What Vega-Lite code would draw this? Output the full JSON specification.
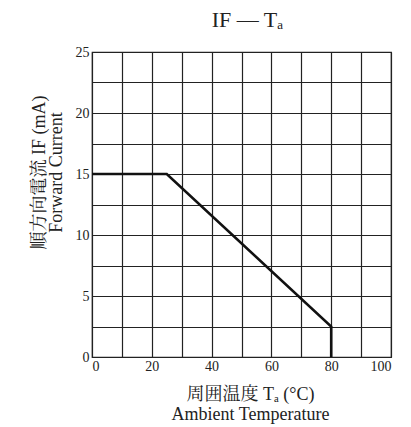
{
  "$schema": "https://vega.github.io/schema/vega-lite/v6.json",
  "width": 299,
  "height": 305,
  "autosize": "none",
  "padding": {"left": 92, "top": 52, "right": 20, "bottom": 70},
  "background": "white",
  "title": {"text": "IF — Tₐ", "font": "Liberation Serif", "fontSize": 22, "fontWeight": "normal", "color": "#222", "offset": 13, "dx": 6},
  "config": {
    "view": {"stroke": "#222", "strokeWidth": 1.2},
    "axis": {
      "labelFont": "Liberation Serif",
      "labelFontSize": 14,
      "labelColor": "#222",
      "titleFont": "Liberation Serif, Noto Serif CJK JP, Noto Sans CJK JP",
      "titleFontWeight": "normal",
      "titleColor": "#222",
      "titleFontSize": 18,
      "gridColor": "#222",
      "gridOpacity": 1,
      "gridWidth": 1.2,
      "domain": false,
      "ticks": false
    }
  },
  "data": {"values": [
    {"ta": 0, "current": 15},
    {"ta": 25, "current": 15},
    {"ta": 80, "current": 2.5},
    {"ta": 80, "current": 0}
  ]},
  "mark": {"type": "line", "color": "#111", "strokeWidth": 2.6},
  "encoding": {
    "x": {
      "field": "ta", "type": "quantitative",
      "scale": {"domain": [0, 100], "nice": false},
      "axis": {
        "values": [0, 10, 20, 30, 40, 50, 60, 70, 80, 90, 100],
        "labelExpr": "datum.value % 20 == 0 ? datum.label : ''",
        "labelPadding": 2,
        "title": ["周囲温度  Tₐ (°C)", "Ambient Temperature"],
        "titlePadding": 12,
        "titleLineHeight": 20,
        "titleX": 158
      }
    },
    "y": {
      "field": "current", "type": "quantitative",
      "scale": {"domain": [0, 25], "nice": false},
      "axis": {
        "values": [0, 2.5, 5, 7.5, 10, 12.5, 15, 17.5, 20, 22.5, 25],
        "labelExpr": "datum.value % 5 == 0 ? datum.label : ''",
        "labelPadding": 3,
        "title": ["順方向電流  IF (mA)", "Forward Current"],
        "titleAngle": -90,
        "titleX": -44,
        "titleY": 120,
        "titleAlign": "center",
        "titleBaseline": "bottom",
        "titleLineHeight": 17
      }
    }
  }
}
